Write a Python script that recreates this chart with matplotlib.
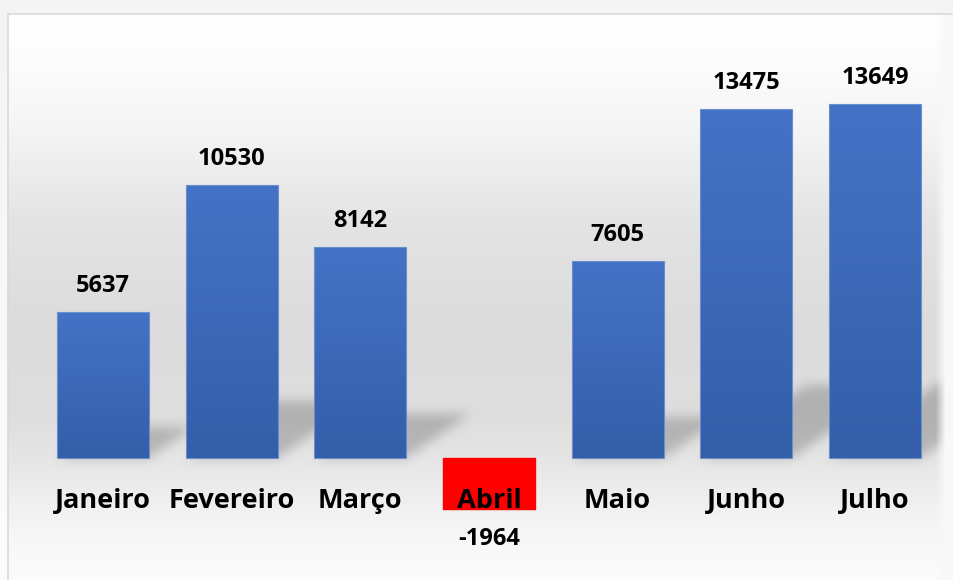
import numpy as np
import matplotlib
matplotlib.use("Agg")
import matplotlib.pyplot as plt
from matplotlib.patches import Rectangle
from matplotlib.path import Path

categories = ["Janeiro", "Fevereiro", "Março", "Abril", "Maio", "Junho", "Julho"]
values = [5637, 10530, 8142, -1964, 7605, 13475, 13649]

W, H = 954, 580
fig = plt.figure(figsize=(W / 100, H / 100), dpi=100)
ax = fig.add_axes([0, 0, 1, 1])
x = np.arange(len(categories))
XL = (-0.8005, 6.614)
YL = (-4704, 17660)
ax.set_xlim(*XL)
ax.set_ylim(*YL)
ax.axis("off")

fam = ["Open Sans", "DejaVu Sans"]

bw = 0.715
bars = ax.bar(x, values, width=bw, color="none", edgecolor="none", zorder=3)

fig.canvas.draw()

# ---------- background with shadows (pixel image) ----------
cols = np.arange(W)[None, :].astype(float)
yp = [0, 40, 120, 220, 320, 420, 470, 530, 580]
gp = [255, 254, 246, 228, 220, 222, 232, 246, 252]
prof = np.interp(np.arange(H), yp, gp)[:, None]
bg = np.ones((H, W)) * prof
fade = np.clip((cols - 935) / 10.0, 0, 1)
bg = bg * (1 - fade) + 248 * fade

shadow = np.zeros((H, W))
yy, xx = np.mgrid[0:H, 0:W]
pts = np.column_stack([xx.ravel() + 0.5, (H - yy.ravel() - 0.5)])
for b, v in zip(bars, values):
    if v <= 0:
        continue
    x0 = b.get_x()
    x1 = b.get_x() + b.get_width()
    (px0, py0), (px1, py1) = ax.transData.transform([(x0, 0), (x1, v)])
    bar_h = py1 - py0
    sh = bar_h * 0.21
    dx = sh * 1.45
    poly = Path([(px0, py0), (px1, py0), (px1 + dx, py0 + sh), (px0 + dx, py0 + sh), (px0, py0)])
    m = poly.contains_points(pts).reshape(H, W)
    shadow = np.maximum(shadow, m.astype(float))

def blur(a, r):
    k = np.ones(2 * r + 1) / (2 * r + 1)
    for _ in range(2):
        a = np.apply_along_axis(lambda s: np.convolve(s, k, mode="same"), 0, a)
        a = np.apply_along_axis(lambda s: np.convolve(s, k, mode="same"), 1, a)
    return a

shadow = blur(shadow, 6)
shadow = shadow * (1 - fade)
bg = bg * (1 - 0.2 * shadow)

frame_l, frame_t = 8, 14
outside = (xx < frame_l) | (yy < frame_t)
out_col = 244 + 8 * (yy / H)
bg = np.where(outside, out_col, bg)

img = np.stack([bg, bg, bg], axis=-1) / 255.0
ax.imshow(img, extent=(XL[0], XL[1], YL[0], YL[1]), aspect="auto", zorder=0,
          interpolation="nearest")

inv = ax.transData.inverted()
(fx0, fy0) = inv.transform((frame_l, H - frame_t))
(fx1, fy1) = inv.transform((W + 5, -5))
ax.add_patch(Rectangle((fx0, fy1), fx1 - fx0, fy0 - fy1, fill=False,
                       edgecolor="#d9d9d9", linewidth=1.2, zorder=1))

grad = np.linspace(0, 1, 256)[:, None]
top = np.array([68, 115, 198]) / 255
bot = np.array([52, 94, 168]) / 255
gimg = (top[None, None, :] * (1 - grad[..., None]) + bot[None, None, :] * grad[..., None])
for b, v in zip(bars, values):
    x0 = b.get_x()
    x1 = x0 + b.get_width()
    if v > 0:
        im = ax.imshow(gimg, extent=(x0, x1, 0, v), aspect="auto", zorder=3,
                       interpolation="bilinear")
        im.set_clip_path(b)
        ax.add_patch(Rectangle((x0, 0), x1 - x0, v, fill=False,
                               edgecolor="#6a8fd0", linewidth=0.8, zorder=3.5))
    else:
        ax.add_patch(Rectangle((x0, v), x1 - x0, -v, color="#ff0000", zorder=3))

for xi, v in zip(x, values):
    if v >= 0:
        ax.annotate(f"{v}", (xi, v), xytext=(0, 10), textcoords="offset points",
                    ha="center", va="bottom", fontsize=17, fontweight="bold",
                    family=fam, color="#000000", zorder=5)
    else:
        ax.annotate(f"{v}", (xi, v), xytext=(0, -13), textcoords="offset points",
                    ha="center", va="top", fontsize=17, fontweight="bold",
                    family=fam, color="#000000", zorder=5)

for xi, c in zip(x, categories):
    ax.annotate(c, (xi, 0), xytext=(0, -31), textcoords="offset points",
                ha="center", va="center", fontsize=19.5, fontweight="bold",
                family=fam, color="#000000", zorder=5)

fig.savefig("out.png", dpi=100)
